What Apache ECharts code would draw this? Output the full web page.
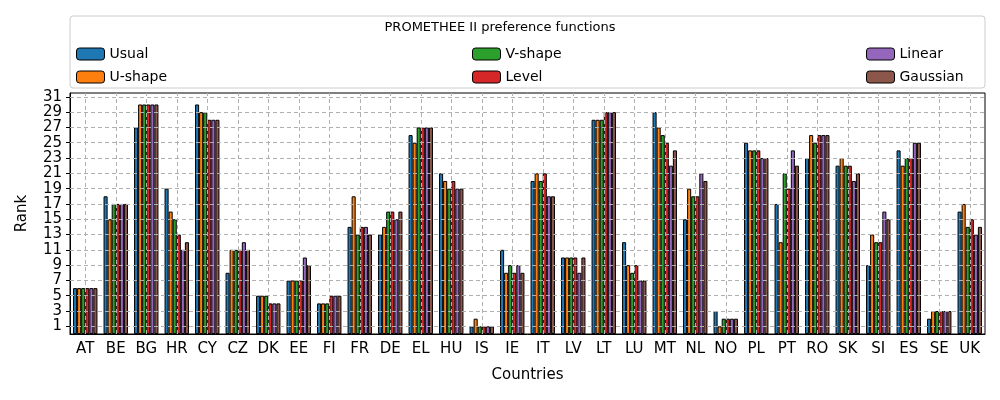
<!DOCTYPE html>
<html><head><meta charset="utf-8">
<script src="https://cdn.jsdelivr.net/npm/echarts@6/dist/echarts.min.js"></script>
<style>body{margin:0}#c{width:1000px;height:400px}</style>
</head><body><div id="c"></div>
<script>
const countries = ['AT','BE','BG','HR','CY','CZ','DK','EE','FI','FR','DE','EL','HU','IS','IE','IT','LV','LT','LU','MT','NL','NO','PL','PT','RO','SK','SI','ES','SE','UK'];
const usual    = [6,18,27,19,30,8,5,7,4,14,13,26,21,1,11,20,10,28,12,29,15,3,25,17,23,22,9,24,2,16];
const ushape   = [6,15,30,16,29,11,5,7,4,18,14,25,20,2,8,21,10,28,9,27,19,1,24,12,26,23,13,22,3,17];
const vshape   = [6,17,30,15,29,11,5,7,4,13,16,27,19,1,9,20,10,28,8,26,18,2,24,21,25,22,12,23,3,14];
const level    = [6,17,30,13,28,11,4,7,5,14,16,27,20,1,8,21,10,29,9,25,18,2,24,19,26,22,12,23,3,15];
const linear   = [6,17,30,11,28,12,4,10,5,14,15,27,19,1,9,18,8,29,7,22,21,2,23,24,26,20,16,25,3,13];
const gaussian = [6,17,30,12,28,11,4,9,5,13,16,27,19,1,8,18,10,29,7,24,20,2,23,22,26,21,15,25,3,14];
const names = ['Usual','U-shape','V-shape','Level','Linear','Gaussian'];
const colors = ['#1f77b4','#ff7f0e','#2ca02c','#d62728','#9467bd','#8c564b'];
const yTicks = [1,3,5,7,9,11,13,15,17,19,21,23,25,27,29,31];

const chart = echarts.init(document.getElementById('c'));
const data = [usual, ushape, vshape, level, linear, gaussian];
const series = data.map((d, i) => ({
  name: names[i], type: 'bar', data: d, barGap: '0%', barCategoryGap: '20%',
  itemStyle: {color: colors[i], borderColor: '#000', borderWidth: 1}
}));
const dash = {color: '#b0b0b0', type: [4, 3], width: 1};
series.unshift({
  type: 'line', data: [], silent: true,
  markLine: {
    silent: true, symbol: 'none', label: {show: false}, lineStyle: dash, animation: false,
    data: countries.map(c => ({xAxis: c})).concat(yTicks.map(v => ({yAxis: v})))
  }
});
const legendItem = (n, left, top) => ({
  data: [n], left: left, top: top, itemWidth: 28, itemHeight: 12, itemGap: 0,
  textStyle: {fontSize: 14, color: '#000'},
  itemStyle: {borderColor: '#000', borderWidth: 1}
});
chart.setOption({
  animation: false,
  textStyle: {fontFamily: 'DejaVu Sans'},
  graphic: [{type: 'rect', shape: {x: 70, y: 16, width: 915, height: 72, r: 3},
    style: {fill: '#fff', stroke: '#ccc', lineWidth: 1}, z: -1},
    {type: 'text', left: 'center', top: 21, style: {text: 'PROMETHEE II preference functions', fontSize: 13, fill: '#000', fontFamily: 'DejaVu Sans'}}],
  legend: [
    legendItem('Usual', 71, 42), legendItem('U-shape', 71, 65),
    legendItem('V-shape', 467, 42), legendItem('Level', 467, 65),
    legendItem('Linear', 861, 42), legendItem('Gaussian', 861, 65)
  ],
  grid: {left: 70, right: 15, top: 93, bottom: 66, show: true, borderColor: '#000', borderWidth: 1},
  xAxis: {type: 'category', data: countries, name: 'Countries', nameLocation: 'middle', nameGap: 34,
    nameTextStyle: {fontSize: 15, color: '#000'},
    axisLine: {lineStyle: {color: '#000'}},
    axisTick: {alignWithLabel: true, length: 4, lineStyle: {color: '#000'}},
    axisLabel: {fontSize: 15, color: '#000', margin: 8}},
  yAxis: {type: 'value', min: 0, max: 31.5, name: 'Rank', nameLocation: 'middle', nameGap: 40,
    nameTextStyle: {fontSize: 15, color: '#000'},
    splitLine: {show: false},
    axisLine: {show: true, lineStyle: {color: '#000'}},
    axisTick: {show: true, length: 4, customValues: yTicks, lineStyle: {color: '#000'}},
    axisLabel: {fontSize: 15, color: '#000', customValues: yTicks}},
  series: series
});
</script></body></html>
